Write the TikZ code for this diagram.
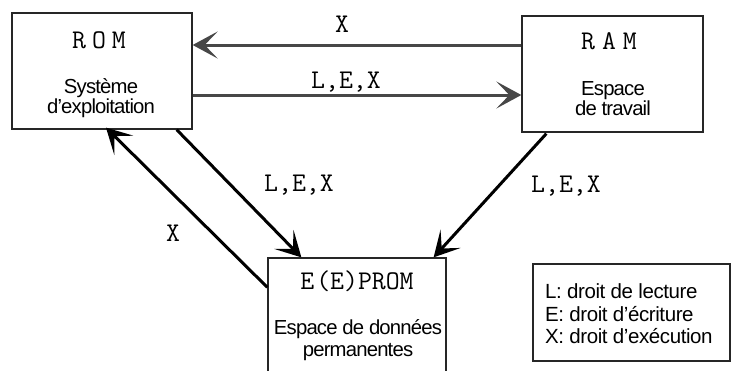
\documentclass[tikz,border=0pt]{standalone}
\usepackage{fontspec}
\setmainfont{Liberation Sans}
\usetikzlibrary{arrows.meta}
\newcommand{\codefont}{\ttfamily\fontsize{27}{27}\selectfont\addfontfeature{LetterSpace=6}}
\begin{document}
\begin{tikzpicture}[x=1pt,y=-1pt,
  unitbox/.style={draw=black!85,line width=1.3pt,inner sep=0pt},
  title/.style={font=\codefont,anchor=base,inner sep=0pt},
  desc/.style={font=\fontsize{20.3}{20.3}\selectfont\addfontfeature{LetterSpace=-4},anchor=base,inner sep=0pt},
  rights/.style={font=\codefont,anchor=base,inner sep=0pt},
  legline/.style={font=\fontsize{20.5}{20.5}\selectfont\addfontfeature{LetterSpace=-2},anchor=base west,inner sep=0pt},
  flow/.style={line width=3pt,-{Stealth[length=25pt,width=27pt,inset=13pt]}},
  hflow/.style={flow,draw=black!72,fill=black!72},
  dflow/.style={flow,draw=black,fill=black}]
\useasboundingbox (0,0) rectangle (731,370);
\clip (0,0) rectangle (731,370);

% memory units
\node[unitbox,minimum width=180pt,minimum height=116pt] (rom) at (102,71) {};
\node[unitbox,minimum width=181pt,minimum height=116pt] (ram) at (612.5,74) {};
\node[unitbox,minimum width=178pt,minimum height=130pt] (eprom) at (357,323) {};
\node[unitbox,minimum width=197pt,minimum height=97pt] (legend) at (631.5,312.5) {};

% unit names and roles
\node[title] (romname) at (99,48) {R\kern6pt O\kern6pt M};
\node[title] (ramname) at (609,49) {R\kern7pt A\kern7pt M};
\node[title] (epromname) at (357,289) {E\kern2pt(E)PROM};
\node[desc] (romd1) at (101,93) {Système};
\node[desc] (romd2) at (101,113) {d'exploitation};
\node[desc] (ramd1) at (613,95) {Espace};
\node[desc] (ramd2) at (613,115) {de travail};
\node[desc] (epromd1) at (358,334) {Espace de données};
\node[desc] (epromd2) at (358,356) {permanentes};

% legend
\node[legline] (legL) at (545,298) {L: droit de lecture};
\node[legline] (legE) at (545,321) {E: droit d'écriture};
\node[legline] (legX) at (545,343) {X: droit d'exécution};

% access flows
\coordinate (ytop) at (0,45);
\coordinate (ymid) at (0,95);
\draw[hflow] (ram.west |- ytop) -- (rom.east |- ytop);
\draw[hflow] (rom.east |- ymid) -- (ram.west |- ymid);
\draw[dflow] ([xshift=-16pt]rom.south east) -- ([xshift=34pt]eprom.north west);
\draw[dflow] ([yshift=-30pt]eprom.north west) -- ([xshift=4pt,yshift=2pt]rom.south);
\draw[dflow] ([xshift=25pt,yshift=-1pt]ram.south west) -- ([xshift=-13pt]eprom.north east);

% flow labels
\node[rights] (lbltop) at (342,32) {X};
\node[rights] (lblmid) at (346,88) {L,E,X};
\node[rights] (lbldiag) at (299,191) {L,E,X};
\node[rights] (lblback) at (173,241) {X};
\node[rights] (lblram) at (566,192) {L,E,X};
\end{tikzpicture}
\end{document}
